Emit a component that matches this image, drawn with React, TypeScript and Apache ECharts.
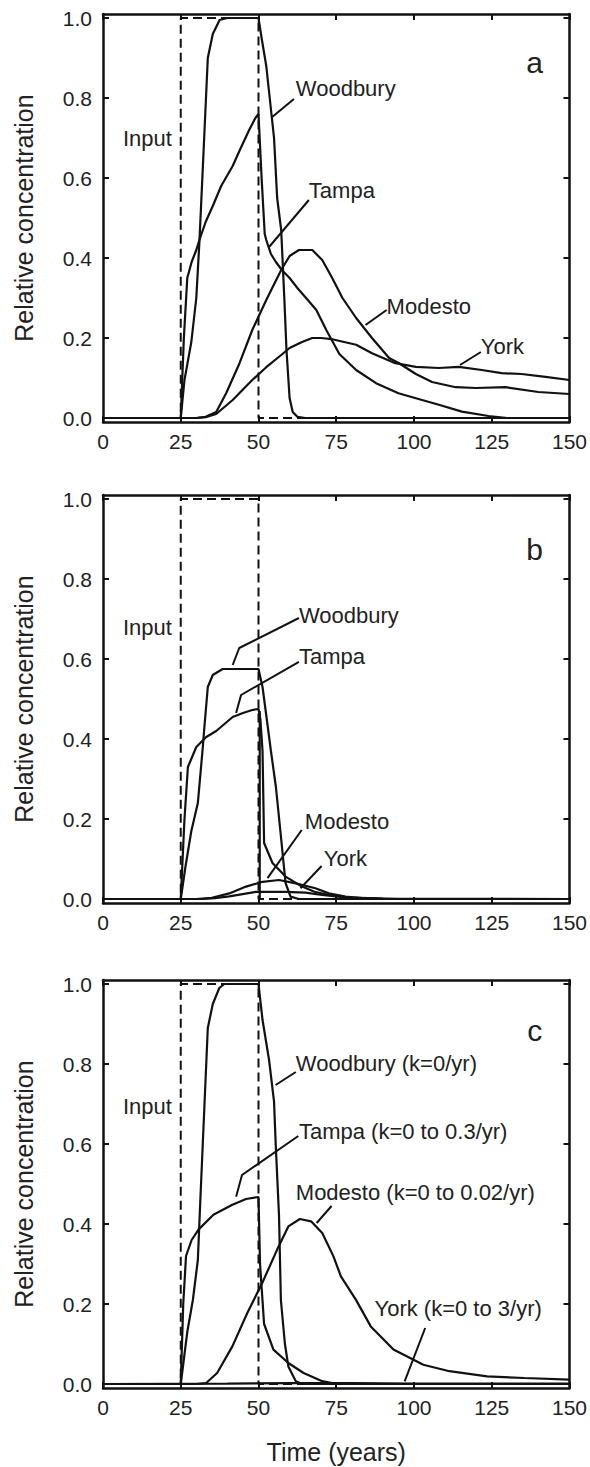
import React, { useEffect, useRef } from "react";
import * as echarts from "echarts";

// ---------- tick labels ----------
const xTickValues = [0, 25, 50, 75, 100, 125, 150];
const yTickValues = [0, 0.2, 0.4, 0.6, 0.8, 1.0];

// ---------- input pulse (same in every panel) ----------
const inputPulse = [[0, 0], [25, 0], [25, 1], [50, 1], [50, 0], [150, 0]];

// ---------- panel a ----------
const woodburyA = [[0, 0], [25, 0], [26.2, 0.095], [28.4, 0.19], [30, 0.3], [31, 0.44], [32.3, 0.66], [33.7, 0.9], [35.3, 0.96], [37.5, 0.995], [40, 1], [50, 1], [51, 0.95], [52.5, 0.88], [55, 0.7], [56, 0.55], [57.3, 0.47], [58.3, 0.3], [59, 0.17], [60, 0.05], [61, 0.015], [62.5, 0.003], [65, 0], [150, 0]];
const tampaA = [[0, 0], [25, 0], [26, 0.2], [27.1, 0.35], [28.5, 0.39], [30, 0.42], [31, 0.445], [33, 0.49], [35.3, 0.53], [38, 0.58], [41.7, 0.63], [44, 0.67], [47, 0.72], [49, 0.75], [50, 0.76], [51, 0.6], [52, 0.46], [52.5, 0.445], [54, 0.41], [55.6, 0.39], [57.5, 0.37], [60, 0.35], [62.5, 0.325], [65.3, 0.3], [68.6, 0.27], [71.8, 0.22], [76, 0.16], [81.4, 0.12], [87.8, 0.087], [95, 0.062], [102.6, 0.045], [108, 0.033], [115.4, 0.016], [124, 0.005], [130, 0], [150, 0]];
const modestoA = [[0, 0], [30, 0], [33, 0.003], [36.4, 0.015], [39.6, 0.062], [43.9, 0.137], [48, 0.22], [52.5, 0.295], [57.3, 0.37], [60, 0.405], [63, 0.42], [67.3, 0.42], [70.5, 0.395], [73.7, 0.35], [77, 0.3], [81.4, 0.25], [86.5, 0.2], [92, 0.15], [95.2, 0.137], [100.6, 0.11], [105.8, 0.09], [113.4, 0.077], [119.9, 0.075], [129.5, 0.077], [140, 0.065], [150, 0.06]];
const yorkA = [[0, 0], [30, 0], [33, 0.002], [36.4, 0.01], [41.7, 0.045], [48, 0.095], [52.5, 0.127], [57.7, 0.16], [60, 0.175], [64, 0.19], [67.3, 0.2], [70, 0.2], [73.7, 0.197], [81.4, 0.183], [86.5, 0.162], [94, 0.137], [100.6, 0.128], [108, 0.125], [114.4, 0.128], [121.8, 0.12], [128.2, 0.112], [134.6, 0.11], [142.3, 0.103], [150, 0.095]];

// ---------- panel b ----------
const woodburyB = [[0, 0], [25, 0], [26.5, 0.08], [28.4, 0.17], [30.5, 0.24], [32.1, 0.38], [32.6, 0.43], [33.7, 0.53], [35.3, 0.56], [37.4, 0.57], [38.5, 0.575], [50, 0.575], [51.3, 0.53], [52.4, 0.465], [54, 0.37], [55.6, 0.28], [57.1, 0.165], [58.7, 0.04], [60.3, 0.006], [63, 0], [150, 0]];
const tampaB = [[0, 0], [25, 0], [26.2, 0.2], [27.3, 0.33], [30, 0.38], [33.2, 0.405], [36.4, 0.42], [41.7, 0.455], [45, 0.465], [48, 0.4725], [50, 0.475], [50.6, 0.45], [51.3, 0.37], [51.8, 0.14], [54.5, 0.09], [58.7, 0.056], [64, 0.031], [68, 0.018], [72.6, 0.01], [80, 0.003], [90, 0], [150, 0]];
const tampaDropB = [[50.4, 0.47], [50.4, 0]];
const modestoB = [[0, 0], [30, 0], [35, 0.003], [40.6, 0.014], [46, 0.031], [51.3, 0.043], [56.6, 0.0475], [62, 0.039], [68.3, 0.027], [72.6, 0.014], [78, 0.006], [83.2, 0.002], [95, 0], [150, 0]];
const yorkB = [[0, 0], [32, 0], [36, 0.002], [40.6, 0.0067], [49.2, 0.018], [58.7, 0.018], [65.1, 0.016], [70.5, 0.01], [77.9, 0.004], [90, 0.001], [150, 0]];

// ---------- panel c ----------
const woodburyC = [[0, 0], [25, 0], [27.1, 0.13], [28.9, 0.21], [30.5, 0.31], [31.3, 0.46], [33.7, 0.89], [35.3, 0.95], [37.4, 0.99], [39, 1], [50, 1], [51.3, 0.91], [53.4, 0.81], [55, 0.706], [55.5, 0.606], [56.6, 0.42], [57.2, 0.21], [58.5, 0.1], [59.6, 0.044], [62, 0.007], [64, 0], [150, 0]];
const tampaC = [[0, 0], [25, 0], [25.8, 0.2], [26.7, 0.32], [28.5, 0.36], [30.7, 0.386], [35.5, 0.423], [41.6, 0.448], [46, 0.4625], [50, 0.4675], [50.5, 0.3], [51.8, 0.15], [54.8, 0.086], [59.6, 0.0525], [64.5, 0.0275], [70.5, 0.007], [75.3, 0], [150, 0]];
const modestoC = [[0, 0], [30, 0], [33.1, 0.002], [36.7, 0.0275], [41.6, 0.094], [46.4, 0.1775], [51.2, 0.2525], [56, 0.336], [59.6, 0.394], [63.3, 0.4125], [66.9, 0.4067], [70.5, 0.3775], [74.1, 0.319], [76.5, 0.269], [81.3, 0.211], [86.1, 0.144], [93.4, 0.086], [103, 0.048], [111.4, 0.032], [123.5, 0.019], [135.5, 0.015], [150, 0.011]];
const yorkC = [[0, 0], [40, 0.001], [60, 0.002], [80, 0.002], [100, 0.001], [150, 0.001]];

// ---------- annotations (data coordinates) ----------
type Ann = { text: string; at: number[]; pointer?: number[][] };
const annotationsA: Ann[] = [
  { text: "Input", at: [6.4, 0.7] },
  { text: "Woodbury", at: [62.0, 0.825], pointer: [[54.4, 0.7525], [61.4, 0.7975]] },
  { text: "Tampa", at: [66.2, 0.57], pointer: [[53.4, 0.4275], [66.2, 0.545]] },
  { text: "Modesto", at: [91.2, 0.28], pointer: [[84.4, 0.2325], [91.2, 0.27]] },
  { text: "York", at: [121.5, 0.178], pointer: [[114.8, 0.1325], [121.5, 0.165]] },
];
const annotationsB: Ann[] = [
  { text: "Input", at: [6.4, 0.68] },
  { text: "Woodbury", at: [63, 0.71], pointer: [[41.7, 0.585], [43.8, 0.6275], [63, 0.7025]] },
  { text: "Tampa", at: [63, 0.606], pointer: [[42.8, 0.465], [44.4, 0.51], [63, 0.593]] },
  { text: "Modesto", at: [64.9, 0.193], pointer: [[52.9, 0.052], [63.9, 0.1725]] },
  { text: "York", at: [71, 0.102], pointer: [[63.5, 0.027], [70.3, 0.0825]] },
];
const annotationsC: Ann[] = [
  { text: "Input", at: [6.4, 0.693] },
  { text: "Woodbury (k=0/yr)", at: [62.0, 0.8025], pointer: [[55.5, 0.7475], [62, 0.78]] },
  { text: "Tampa (k=0 to 0.3/yr)", at: [63, 0.6325], pointer: [[42.8, 0.468], [44.7, 0.5225], [62.8, 0.62]] },
  { text: "Modesto (k=0 to 0.02/yr)", at: [62, 0.48], pointer: [[68.7, 0.4025], [73.5, 0.445]] },
  { text: "York (k=0 to 3/yr)", at: [87.3, 0.19], pointer: [[97, 0.0067], [103.6, 0.14]] },
];

const panels = [
  { letter: "a", letterAt: [138.8, 0.89], curves: [woodburyA, tampaA, modestoA, yorkA], annotations: annotationsA, top: 14 },
  { letter: "b", letterAt: [138.8, 0.875], curves: [woodburyB, tampaB, tampaDropB, modestoB, yorkB], annotations: annotationsB, top: 495 },
  { letter: "c", letterAt: [138.8, 0.885], curves: [woodburyC, tampaC, modestoC, yorkC], annotations: annotationsC, top: 980 },
];

const FONT = '"Liberation Sans", Arial, Helvetica, sans-serif';
const INK = "#111";
const TEXT = "#222";
const Y_MIN = -0.01;
const Y_MAX = 1.01;

export default function App() {
  const ref = useRef<HTMLDivElement>(null);
  useEffect(() => {
    if (!ref.current) return;
    const chart = echarts.init(ref.current, undefined, { renderer: "svg" });
    const grids: any[] = [];
    const xAxes: any[] = [];
    const yAxes: any[] = [];
    const series: any[] = [];
    panels.forEach((p, i) => {
      grids.push({ left: 103, right: 18, top: p.top, height: 408, show: false });
      const axisLine = { show: true, onZero: false, lineStyle: { color: INK, width: 2.5 } };
      const tick = { show: true, inside: true, length: 6, lineStyle: { color: INK, width: 2 } };
      xAxes.push({
        type: "value", gridIndex: i, position: "bottom", min: 0, max: 150, interval: 25,
        axisLine, axisTick: tick, splitLine: { show: false },
        axisLabel: { show: true, margin: 9, fontSize: 21, fontFamily: FONT, color: TEXT, customValues: xTickValues },
        name: i === 2 ? "Time (years)" : "", nameLocation: "middle", nameGap: 51,
        nameTextStyle: { fontSize: 25, fontFamily: FONT, color: TEXT },
      });
      xAxes.push({
        type: "value", gridIndex: i, position: "top", min: 0, max: 150, interval: 25,
        axisLine, axisTick: tick, splitLine: { show: false }, axisLabel: { show: false },
      });
      yAxes.push({
        type: "value", gridIndex: i, position: "left", min: Y_MIN, max: Y_MAX,
        axisLine, axisTick: { ...tick, customValues: yTickValues }, splitLine: { show: false },
        axisLabel: { show: true, margin: 11, fontSize: 21, fontFamily: FONT, color: TEXT, customValues: yTickValues, formatter: (v: number) => v.toFixed(1) },
        name: "Relative concentration", nameLocation: "middle", nameGap: 67, nameRotate: 90,
        nameTextStyle: { fontSize: 25, fontFamily: FONT, color: TEXT },
      });
      yAxes.push({
        type: "value", gridIndex: i, position: "right", min: Y_MIN, max: Y_MAX,
        axisLine, axisTick: { ...tick, customValues: yTickValues }, splitLine: { show: false }, axisLabel: { show: false },
      });
      series.push({
        type: "line", xAxisIndex: 2 * i, yAxisIndex: 2 * i, data: inputPulse, showSymbol: false, symbol: "none",
        lineStyle: { color: INK, width: 2, type: [9, 5] }, silent: true,
      });
      p.curves.forEach((c) => {
        series.push({
          type: "line", xAxisIndex: 2 * i, yAxisIndex: 2 * i, data: c, showSymbol: false, symbol: "none",
          lineStyle: { color: INK, width: 2.2 }, silent: true,
        });
      });
      p.annotations.forEach((a) => {
        if (a.pointer) {
          series.push({
            type: "line", xAxisIndex: 2 * i, yAxisIndex: 2 * i, data: a.pointer, showSymbol: false, symbol: "none",
            lineStyle: { color: INK, width: 2 }, silent: true,
          });
        }
      });
    });
    chart.setOption({
      animation: false,
      backgroundColor: "#fff",
      grid: grids,
      xAxis: xAxes,
      yAxis: yAxes,
      series,
    });
    const graphics: any[] = [];
    panels.forEach((p, i) => {
      const toPx = (pt: number[]) => [
        chart.convertToPixel({ xAxisIndex: 2 * i }, pt[0]) as number,
        chart.convertToPixel({ yAxisIndex: 2 * i }, pt[1]) as number,
      ];
      p.annotations.forEach((a) => {
        const [x, y] = toPx(a.at);
        graphics.push({
          type: "text", x, y, silent: true,
          style: { text: a.text, fill: TEXT, font: `22px ${FONT}`, align: "left", verticalAlign: "middle" },
        });
      });
      const [lx, ly] = toPx(p.letterAt);
      graphics.push({
        type: "text", x: lx, y: ly, silent: true,
        style: { text: p.letter, fill: TEXT, font: `30px ${FONT}`, align: "center", verticalAlign: "middle" },
      });
    });
    chart.setOption({ graphic: graphics });
    return () => chart.dispose();
  }, []);
  return (
    <div
      ref={ref}
      style={{ position: "absolute", left: 0, top: 0, width: 590, height: 1467, background: "#fff" }}
    />
  );
}
